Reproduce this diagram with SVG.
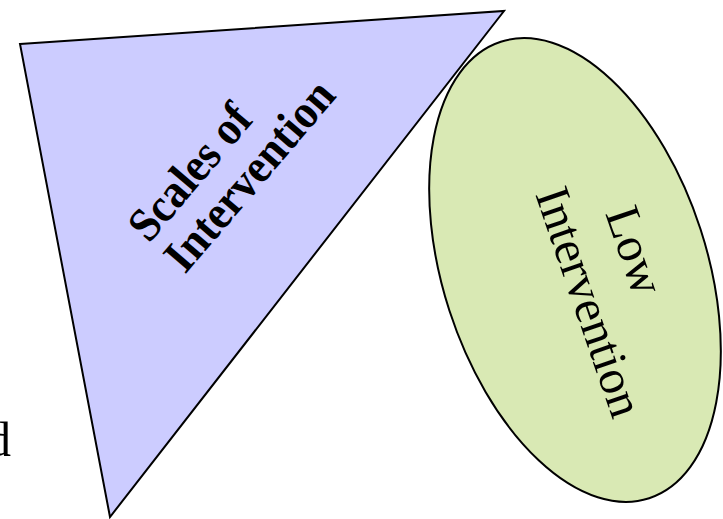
<svg xmlns="http://www.w3.org/2000/svg" width="723" height="519" viewBox="0 0 723 519">
<style>
.shape{stroke:#000;stroke-width:2;stroke-linejoin:miter}
.bold{font-family:"Liberation Serif","Times New Roman",serif;font-weight:bold;font-size:44px;fill:#000}
.reg{font-family:"Liberation Serif","Times New Roman",serif;font-size:49px;fill:#000}
</style>
<rect width="723" height="519" fill="#fff"/>
<g id="cut-text">
<text class="reg" x="11" y="456" text-anchor="end" font-size="52">d</text>
</g>
<g id="scales">
<polygon class="shape" points="20,44 504,11 110,517" fill="#CCCCFF"/>
<g transform="translate(149,244) rotate(-49.5) scale(1,1.08)">
<text class="bold" x="0" y="0">Scales of</text>
<text class="bold" x="0" y="44">Intervention</text>
</g>
</g>
<g id="low">
<ellipse class="shape" cx="575" cy="270" rx="132" ry="240" transform="rotate(-18 575 270)" fill="#D9E9B4"/>
<g transform="translate(535,194) rotate(71)">
<text class="reg" x="41" y="-60">Low</text>
<text class="reg" x="0" y="0">Intervention</text>
</g>
</g>
<g id="connectors"></g>
</svg>
